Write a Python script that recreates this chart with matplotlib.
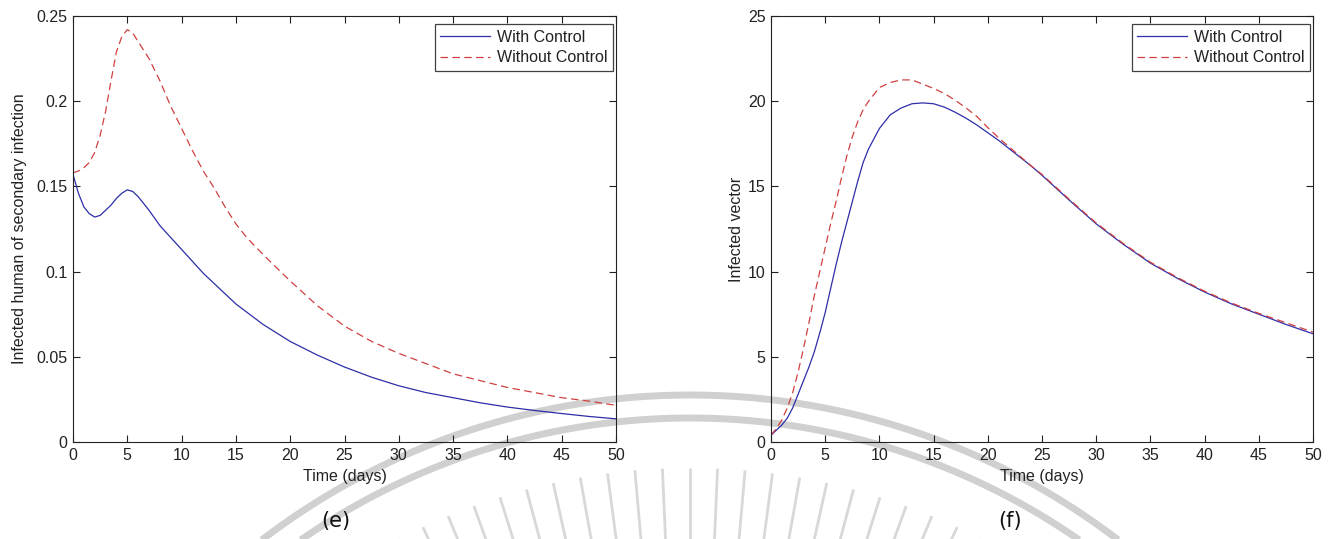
import numpy as np
import matplotlib
matplotlib.use("Agg")
import matplotlib.pyplot as plt

# ---- data -------------------------------------------------------------
# (e) infected humans with secondary infection
t_e_ctrl = [0, 0.5, 1, 1.5, 2, 2.5, 3, 3.5, 4, 4.5, 5, 5.5, 6, 7, 8, 9, 10,
            11, 12, 13, 14, 15, 17.5, 20, 22.5, 25, 27.5, 30, 32.5, 35,
            37.5, 40, 42.5, 45, 47.5, 50]
e_ctrl = [0.157, 0.146, 0.138, 0.134, 0.132, 0.133, 0.136, 0.139, 0.143,
          0.146, 0.148, 0.147, 0.144, 0.136, 0.127, 0.120, 0.113, 0.106,
          0.099, 0.093, 0.087, 0.081, 0.069, 0.059, 0.051, 0.044, 0.038,
          0.033, 0.029, 0.026, 0.023, 0.0205, 0.0185, 0.0167, 0.015, 0.0136]

t_e_noctrl = [0, 0.5, 1, 1.5, 2, 2.5, 3, 3.5, 4, 4.5, 5, 5.5, 6, 7, 8, 9,
              10, 11, 12, 13, 14, 15, 16, 17.5, 20, 22.5, 25, 27.5, 30,
              32.5, 35, 37.5, 40, 42.5, 45, 47.5, 50]
e_noctrl = [0.158, 0.159, 0.161, 0.164, 0.170, 0.180, 0.194, 0.212, 0.229,
            0.238, 0.242, 0.240, 0.235, 0.225, 0.212, 0.197, 0.184, 0.171,
            0.159, 0.149, 0.138, 0.128, 0.120, 0.110, 0.0945, 0.080, 0.068,
            0.059, 0.052, 0.046, 0.040, 0.036, 0.032, 0.029, 0.026, 0.024,
            0.0215]

# (f) infected vectors
t_f = [0, 0.5, 1, 1.5, 2, 2.5, 3, 3.5, 4, 4.5, 5, 5.5, 6, 6.5, 7, 7.5, 8,
       8.5, 9, 10, 11, 12, 13, 14, 15, 16, 17, 18, 19, 20, 21, 22, 23, 24,
       25, 27.5, 30, 32.5, 35, 37.5, 40, 42.5, 45, 47.5, 50]
f_ctrl = [0.4, 0.7, 1.0, 1.4, 2.0, 2.8, 3.6, 4.4, 5.3, 6.4, 7.6, 9.0, 10.4,
          11.7, 12.9, 14.1, 15.3, 16.4, 17.2, 18.4, 19.2, 19.6, 19.85, 19.9,
          19.85, 19.65, 19.35, 19.0, 18.6, 18.15, 17.7, 17.2, 16.7, 16.2,
          15.65, 14.2, 12.8, 11.6, 10.5, 9.6, 8.8, 8.1, 7.5, 6.9, 6.35]
f_noctrl = [0.4, 0.8, 1.3, 2.0, 2.9, 4.1, 5.5, 7.0, 8.6, 10.0, 11.4, 12.8,
            14.1, 15.5, 16.8, 17.9, 18.8, 19.5, 20.0, 20.8, 21.1, 21.25,
            21.25, 21.0, 20.75, 20.45, 20.05, 19.6, 19.1, 18.45, 17.85,
            17.3, 16.75, 16.2, 15.7, 14.25, 12.85, 11.65, 10.55, 9.65, 8.85,
            8.15, 7.55, 7.0, 6.45]

x_ticks = [0, 5, 10, 15, 20, 25, 30, 35, 40, 45, 50]
e_yticks = [0, 0.05, 0.1, 0.15, 0.2, 0.25]
e_yticklabels = ["0", "0.05", "0.1", "0.15", "0.2", "0.25"]
f_yticks = [0, 5, 10, 15, 20, 25]

series_labels = ["With Control", "Without Control"]
panel_tags = ["(e)", "(f)"]

# ---- style --------------------------------------------------------------
plt.rcParams["font.family"] = ["Liberation Sans", "DejaVu Sans"]
FS = 11.5
BLUE = "#2e2ea8"
RED = "#d04040"
W, H = 1331, 539

fig = plt.figure(figsize=(W / 100, H / 100), dpi=100)
fig.patch.set_facecolor("white")

# faint seal in the page background
bg = fig.add_axes([0, 0, 1, 1], zorder=-5)
bg.set_xlim(0, W)
bg.set_ylim(H, 0)
bg.axis("off")
cx, cy = 690, 1100
ang = np.linspace(np.pi * 0.22, np.pi * 0.78, 600)
for r in (705, 682):
    bg.plot(cx + r * np.cos(ang), cy - r * np.sin(ang), color="#d0d0d0",
            lw=5, solid_capstyle="butt")
for a in np.deg2rad(np.arange(-30, 30.1, 2.5)):
    r0, r1 = 520, 632
    bg.plot([cx + r0 * np.sin(a), cx + r1 * np.sin(a)],
            [cy - r0 * np.cos(a), cy - r1 * np.cos(a)],
            color="#d8d8d8", lw=2, solid_capstyle="butt")


def px_rect(left, top, right, bottom):
    return [left / W, 1 - bottom / H, (right - left) / W, (bottom - top) / H]


def style_axes(ax):
    ax.set_facecolor("none")
    for s in ax.spines.values():
        s.set_color("#222222")
        s.set_linewidth(0.8)
    ax.tick_params(direction="in", length=5, width=0.8, color="#222222",
                   top=True, right=True, labelsize=FS, labelcolor="#222222",
                   pad=4)
    ax.set_xlim(0, 50)
    ax.set_xticks(x_ticks)
    ax.set_xlabel("Time (days)", fontsize=FS, color="#222222", labelpad=5)


def add_legend(ax):
    leg = ax.legend(loc="upper right", bbox_to_anchor=(0.9945, 0.981),
                    borderaxespad=0, fontsize=FS, frameon=True,
                    fancybox=False, edgecolor="#111111", handlelength=3.1,
                    handletextpad=0.45, borderpad=0.35, labelspacing=0.35)
    leg.get_frame().set_linewidth(0.9)
    for txt in leg.get_texts():
        txt.set_color("#222222")


# ---- panel (e) ----------------------------------------------------------
ax1 = fig.add_axes(px_rect(73, 16, 616, 442))
ax1.plot(t_e_ctrl, e_ctrl, color=BLUE, lw=0.9, label=series_labels[0])
ax1.plot(t_e_noctrl, e_noctrl, color=RED, lw=0.9, dashes=(6, 3.5),
         label=series_labels[1])
style_axes(ax1)
ax1.set_ylim(0, 0.25)
ax1.set_yticks(e_yticks)
ax1.set_yticklabels(e_yticklabels)
ax1.set_ylabel("Infected human of secondary infection", fontsize=FS,
               color="#222222")
ax1.yaxis.set_label_coords(-0.085, 0.5)
add_legend(ax1)

# ---- panel (f) ----------------------------------------------------------
ax2 = fig.add_axes(px_rect(771, 16, 1313, 442))
ax2.plot(t_f, f_ctrl, color=BLUE, lw=0.9, label=series_labels[0])
ax2.plot(t_f, f_noctrl, color=RED, lw=0.9, dashes=(6, 3.5),
         label=series_labels[1])
style_axes(ax2)
ax2.set_ylim(0, 25)
ax2.set_yticks(f_yticks)
ax2.set_ylabel("Infected vector", fontsize=FS, color="#222222")
ax2.yaxis.set_label_coords(-0.05, 0.5)
add_legend(ax2)

# ---- panel tags -----------------------------------------------------------
fig.text(336 / W, 1 - 521 / H, panel_tags[0], ha="center", va="center",
         fontsize=15, family="DejaVu Sans", color="#111111")
fig.text(1010 / W, 1 - 521 / H, panel_tags[1], ha="center", va="center",
         fontsize=15, family="DejaVu Sans", color="#111111")

fig.savefig("out.png", dpi=100, facecolor="white")
